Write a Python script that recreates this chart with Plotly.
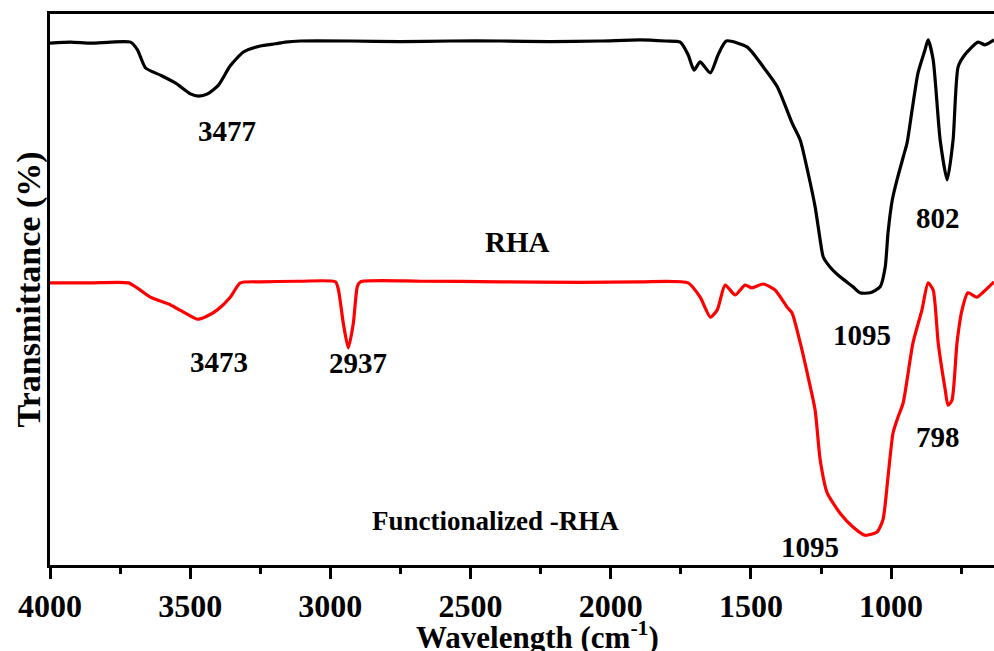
import plotly.graph_objects as go

# Wavenumber (cm-1) and transmittance (arbitrary %)
rha_wn = [4000, 3927, 3855, 3784, 3713, 3688, 3659, 3606, 3553, 3499, 3470, 3438, 3399,
          3357, 3310, 3250, 3196, 3161, 3107, 2928, 2750, 2572, 2394, 2216, 2038, 1895,
          1805, 1752, 1724, 1703, 1681, 1645, 1617, 1588, 1513, 1456, 1406, 1353, 1324,
          1296, 1271, 1253, 1242, 1218, 1182, 1136, 1111, 1075, 1039, 1021, 1011, 996,
          979, 957, 943, 925, 904, 879, 868, 850, 825, 800, 779, 761, 737, 690, 665, 633]
rha_t = [94.7, 94.9, 94.7, 94.9, 94.9, 93.5, 90.2, 88.9, 87.5, 85.5, 85.1, 85.5, 87.1,
         90.6, 93.1, 94.2, 94.6, 94.9, 95.1, 95.1, 95.0, 95.1, 95.1, 95.0, 95.1, 95.3,
         95.1, 94.9, 92.6, 89.8, 91.3, 89.3, 92.6, 95.1, 94.0, 90.4, 86.8, 80.2, 77.1,
         71.1, 65.0, 59.0, 55.9, 54.1, 52.3, 50.5, 49.4, 49.4, 50.5, 54.1, 60.3, 66.2,
         69.9, 74.0, 76.6, 82.6, 89.3, 93.5, 95.3, 91.7, 77.1, 69.9, 77.1, 90.4, 92.6,
         94.9, 94.4, 95.3]

frha_wn = [4000, 3856, 3720, 3684, 3642, 3570, 3524, 3474, 3446, 3403, 3357, 3321, 3250,
           3107, 2982, 2971, 2954, 2936, 2918, 2904, 2893, 2679, 2394, 2109, 1895, 1724,
           1681, 1645, 1620, 1592, 1556, 1521, 1496, 1456, 1414, 1371, 1353, 1324, 1296,
           1271, 1253, 1228, 1182, 1136, 1093, 1050, 1029, 1011, 993, 975, 957, 922, 890,
           868, 850, 832, 807, 797, 783, 765, 747, 726, 694, 672, 633]
frha_t = [51.2, 51.2, 51.2, 50.1, 48.6, 47.2, 45.9, 44.6, 45.0, 46.3, 48.6, 51.2, 51.4,
          51.5, 51.4, 49.9, 43.9, 39.4, 43.9, 50.5, 51.4, 51.5, 51.4, 51.3, 51.4, 51.2,
          48.6, 45.0, 46.3, 50.8, 49.0, 50.8, 50.3, 51.0, 49.9, 46.8, 45.7, 40.3, 34.1,
          28.1, 19.1, 13.1, 9.4, 6.9, 5.4, 6.0, 8.2, 16.0, 24.0, 26.9, 29.4, 40.3, 46.3,
          51.2, 49.9, 40.3, 31.8, 29.0, 29.9, 40.3, 46.3, 49.4, 48.6, 49.5, 51.4]

# Labels: text, x (cm-1), y (transmittance)
label_text = ["3477", "RHA", "802", "1095", "3473", "2937", "798", "1095", "Functionalized -RHA"]
label_x = [3367, 2333, 832, 1103, 3399, 2900, 832, 1289, 2412]
label_y = [78.8, 58.6, 63.0, 41.7, 36.8, 36.7, 23.2, 3.3, 8.0]
label_size = [29, 29, 29, 29, 29, 29, 29, 29, 27]

x_ticks = [4000, 3500, 3000, 2500, 2000, 1500, 1000]
x_minor = [3750, 3250, 2750, 2250, 1750, 1250, 750]

FONT = "Liberation Serif"

fig = go.Figure()
fig.add_trace(go.Scatter(x=rha_wn, y=rha_t, mode="lines",
                         line=dict(color="black", width=3.2, shape="spline", smoothing=0.6),
                         showlegend=False, hoverinfo="skip"))
fig.add_trace(go.Scatter(x=frha_wn, y=frha_t, mode="lines",
                         line=dict(color="#ff0000", width=3.2, shape="spline", smoothing=0.6),
                         showlegend=False, hoverinfo="skip"))

for t, x, y, s in zip(label_text, label_x, label_y, label_size):
    fig.add_annotation(x=x, y=y, xref="x", yref="y", text="<b>%s</b>" % t,
                       showarrow=False, xanchor="center", yanchor="middle",
                       font=dict(family=FONT, size=s, color="black"))

fig.add_annotation(x=(537 - 50) / 944, y=(565 - 636) / 551, xref="paper", yref="paper",
                   text="<b>Wavelength (cm<sup>-1</sup>)</b>", showarrow=False,
                   xanchor="center", yanchor="middle",
                   font=dict(family=FONT, size=31, color="black"))
fig.add_annotation(x=(28 - 50) / 944, y=0.5, xref="paper", yref="paper",
                   text="<b>Transmittance (%)</b>", showarrow=False, textangle=-90,
                   xanchor="center", yanchor="middle",
                   font=dict(family=FONT, size=34, color="black"))

fig.update_xaxes(range=[4000, 633], tickvals=x_ticks, ticktext=[str(v) for v in x_ticks],
                 showgrid=False, zeroline=False, showline=True, linecolor="black",
                 linewidth=3, mirror=True, ticks="outside", ticklen=11, tickwidth=3,
                 tickcolor="black",
                 minor=dict(tickvals=x_minor, ticks="outside", ticklen=6, tickwidth=3,
                            tickcolor="black"),
                 tickfont=dict(family=FONT, size=32, color="black", weight="bold"))
fig.update_yaxes(range=[0, 100], showgrid=False, zeroline=False, showline=True,
                 linecolor="black", linewidth=3, showticklabels=False, ticks="")

fig.update_layout(width=994, height=651, margin=dict(l=50, r=0, t=14, b=86),
                  plot_bgcolor="white", paper_bgcolor="white")

fig.write_html("out.html")
